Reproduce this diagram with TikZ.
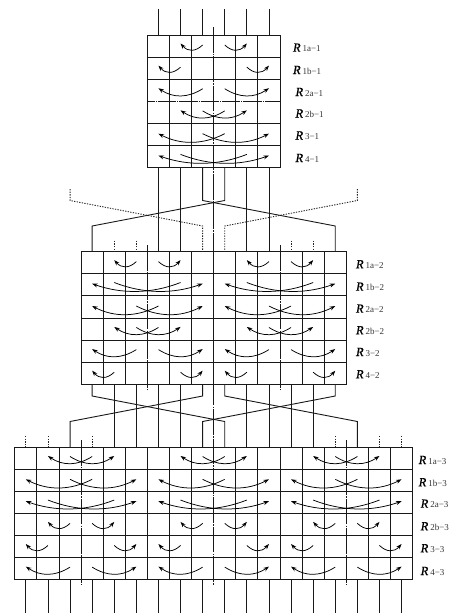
\documentclass[tikz,border=0pt]{standalone}
\usepackage{fontspec}
\newfontfamily\rfont[ItalicFeatures={FakeBold=0.6}]{Liberation Serif}
\usetikzlibrary{arrows.meta}
\tikzset{
  wire/.style={line width=0.9pt,black!90},
  gridl/.style={line width=0.9pt,black!90},
  outer/.style={line width=0.95pt,black!90},
  dotw/.style={line width=0.9pt,black!85,dash pattern=on 1.3pt off 1.3pt},
  axis/.style={line width=0.9pt,black!90,dash pattern=on 25.6pt off 1.1pt on 1.6pt off 1.1pt},
  haxis/.style={line width=0.9pt,black!90,dash pattern=on 18.4pt off 1pt on 1pt off 1pt,dash phase=11pt},
  curve/.style={line width=0.75pt,black,-{Stealth[length=5.5pt,width=4pt]}},
  lab/.style={anchor=base west,inner sep=0pt,outer sep=0pt}
}
% x0, row top, tail wire, head wire
\newcommand{\ucurve}[4]{%
  \pgfmathsetmacro{\xtl}{#1+11.05+22.1*#3}%
  \pgfmathsetmacro{\xhd}{#1+11.05+22.1*#4}%
  \pgfmathtruncatemacro{\spn}{abs(#4-#3)}%
  \ifcase\spn\or\def\yhd{8.5}\def\ytl{10}\def\ymn{15}\or\def\yhd{9}\def\ytl{9.5}\def\ymn{16.5}\or\def\yhd{10.2}\def\ytl{10.2}\def\ymn{18.7}\or\def\yhd{10}\def\ytl{8.8}\def\ymn{17.6}\fi
  \pgfmathsetmacro{\ya}{#2+\ytl}%
  \pgfmathsetmacro{\yb}{#2+\yhd}%
  \pgfmathsetmacro{\yc}{#2+0.5*(\ytl+\yhd)+4/3*(\ymn-0.5*(\ytl+\yhd))}%
  \pgfmathsetmacro{\xc}{\xtl+(\xhd-\xtl)/3}%
  \pgfmathsetmacro{\xd}{\xtl+2*(\xhd-\xtl)/3}%
  \draw[curve] (\xtl,\ya) .. controls (\xc,\yc) and (\xd,\yc) .. (\xhd,\yb);%
}
% x0, y0: grid of 6x6 cells, with the centre column left for the axis
\newcommand{\cellgrid}[2]{%
  \foreach \k in {1,2,4,5}{\pgfmathsetmacro{\xx}{#1+22.1*\k}\draw[gridl] (\xx,#2) -- (\xx,#2+132.72);}%
  \foreach \k in {1,...,5}{\pgfmathsetmacro{\yy}{#2+22.12*\k}\draw[gridl] (#1,\yy) -- (#1+132.6,\yy);}%
  \draw[outer] (#1,#2) rectangle (#1+132.6,#2+132.72);%
}
\newcommand{\rlab}[1]{{\fontsize{12.5}{12.5}\selectfont\rfont\itshape R}\hspace{2pt}{\rfont\fontsize{9}{9}\selectfont\color{black!80}#1}}
\begin{document}
\begin{tikzpicture}[x=1pt,y=-1pt]
\useasboundingbox (0,0) rectangle (453,613);
% ---- axes
\draw[axis] (213.7,27) -- (213.7,585);
\draw[axis] (147.4,245) -- (147.4,390);
\draw[axis] (280,245) -- (280,390);
\draw[axis] (81.1,440) -- (81.1,585);
\draw[axis] (346.3,440) -- (346.3,585);
% ---- grids
\cellgrid{147.4}{35}
\draw[white,line width=1.2pt] (147.9,101.36) -- (279.5,101.36);
\draw[haxis] (147.4,101.36) -- (280,101.36);
\cellgrid{81.1}{251.6}
\cellgrid{213.7}{251.6}
\draw[outer] (213.7,251.6) -- (213.7,384.32);
\cellgrid{14.8}{447}
\cellgrid{147.4}{447}
\cellgrid{280}{447}
\draw[outer] (14.8,513.36) -- (412.6,513.36);
% ---- wires
\foreach \k in {6,...,11}{\pgfmathsetmacro{\xx}{25.85+22.1*\k}\draw[wire] (\xx,9) -- (\xx,35);}
\foreach \k in {6,7,10,11}{\pgfmathsetmacro{\xx}{25.85+22.1*\k}\draw[wire] (\xx,167.72) -- (\xx,251.6);}
\draw[wire] (202.65,167.72) -- (202.65,200.5) -- (335.25,226) -- (335.25,251.6);
\draw[wire] (224.75,167.72) -- (224.75,200.5) -- (92.15,226) -- (92.15,251.6);
\draw[dotw] (70.05,189) -- (70.05,200.5) -- (202.65,226) -- (202.65,251.6);
\draw[dotw] (357.35,189) -- (357.35,200.5) -- (224.75,226) -- (224.75,251.6);
\foreach \k in {4,5,12,13}{\pgfmathsetmacro{\xx}{25.85+22.1*\k}\draw[dotw] (\xx,240.7) -- (\xx,251.6);}
\foreach \k in {4,...,7,10,11,12,13}{\pgfmathsetmacro{\xx}{25.85+22.1*\k}\draw[wire] (\xx,384.32) -- (\xx,447);}
\draw[wire] (92.15,384.32) -- (92.15,396) -- (224.75,421.5) -- (224.75,447);
\draw[wire] (202.65,384.32) -- (202.65,396) -- (70.05,421.5) -- (70.05,447);
\draw[wire] (224.75,384.32) -- (224.75,396) -- (357.35,421.5) -- (357.35,447);
\draw[wire] (335.25,384.32) -- (335.25,396) -- (202.65,421.5) -- (202.65,447);
\foreach \k in {0,1,3,14,16,17}{\pgfmathsetmacro{\xx}{25.85+22.1*\k}\draw[dotw] (\xx,436) -- (\xx,447);}
\foreach \k in {0,...,17}{\pgfmathsetmacro{\xx}{25.85+22.1*\k}\draw[wire] (\xx,579.72) -- (\xx,613);}
% ---- curves: top block
\foreach \r/\t/\h in {0/2/1,0/3/4,1/1/0,1/4/5,2/2/0,2/3/5,3/3/1,3/2/4,4/3/0,4/2/5,5/4/0,5/1/5}{%
  \pgfmathsetmacro{\yr}{35+22.12*\r}\ucurve{147.4}{\yr}{\t}{\h}}
% ---- curves: middle blocks
\foreach \xo in {81.1,213.7}{%
  \foreach \r/\t/\h in {0/2/1,0/3/4,1/4/0,1/1/5,2/3/0,2/2/5,3/3/1,3/2/4,4/2/0,4/3/5,5/1/0,5/4/5}{%
    \pgfmathsetmacro{\yr}{251.6+22.12*\r}\ucurve{\xo}{\yr}{\t}{\h}}}
% ---- curves: bottom blocks
\foreach \xo in {14.8,147.4,280}{%
  \foreach \r/\t/\h in {0/3/1,0/2/4,1/3/0,1/2/5,2/4/0,2/1/5,3/2/1,3/3/4,4/1/0,4/4/5,5/2/0,5/3/5}{%
    \pgfmathsetmacro{\yr}{447+22.12*\r}\ucurve{\xo}{\yr}{\t}{\h}}}
% ---- labels
\node[lab] (a1) at (293,51.7) {\rlab{1a−1}};
\node[lab] (a2) at (293,74) {\rlab{1b−1}};
\node[lab] (a3) at (295.5,96) {\rlab{2a−1}};
\node[lab] (a4) at (295.5,117.5) {\rlab{2b−1}};
\node[lab] (a5) at (295.5,139.5) {\rlab{3−1}};
\node[lab] (a6) at (295.5,162) {\rlab{4−1}};
\node[lab] (b1) at (356,268.3) {\rlab{1a−2}};
\node[lab] (b2) at (356,290.7) {\rlab{1b−2}};
\node[lab] (b3) at (356,312.7) {\rlab{2a−2}};
\node[lab] (b4) at (356,334.3) {\rlab{2b−2}};
\node[lab] (b5) at (356,356) {\rlab{3−2}};
\node[lab] (b6) at (356,378.3) {\rlab{4−2}};
\node[lab] (c1) at (418.7,464) {\rlab{1a−3}};
\node[lab] (c2) at (418.7,486.3) {\rlab{1b−3}};
\node[lab] (c3) at (420.7,507.7) {\rlab{2a−3}};
\node[lab] (c4) at (420.7,530.3) {\rlab{2b−3}};
\node[lab] (c5) at (420.7,552.3) {\rlab{3−3}};
\node[lab] (c6) at (420.7,575) {\rlab{4−3}};
\end{tikzpicture}
\end{document}
